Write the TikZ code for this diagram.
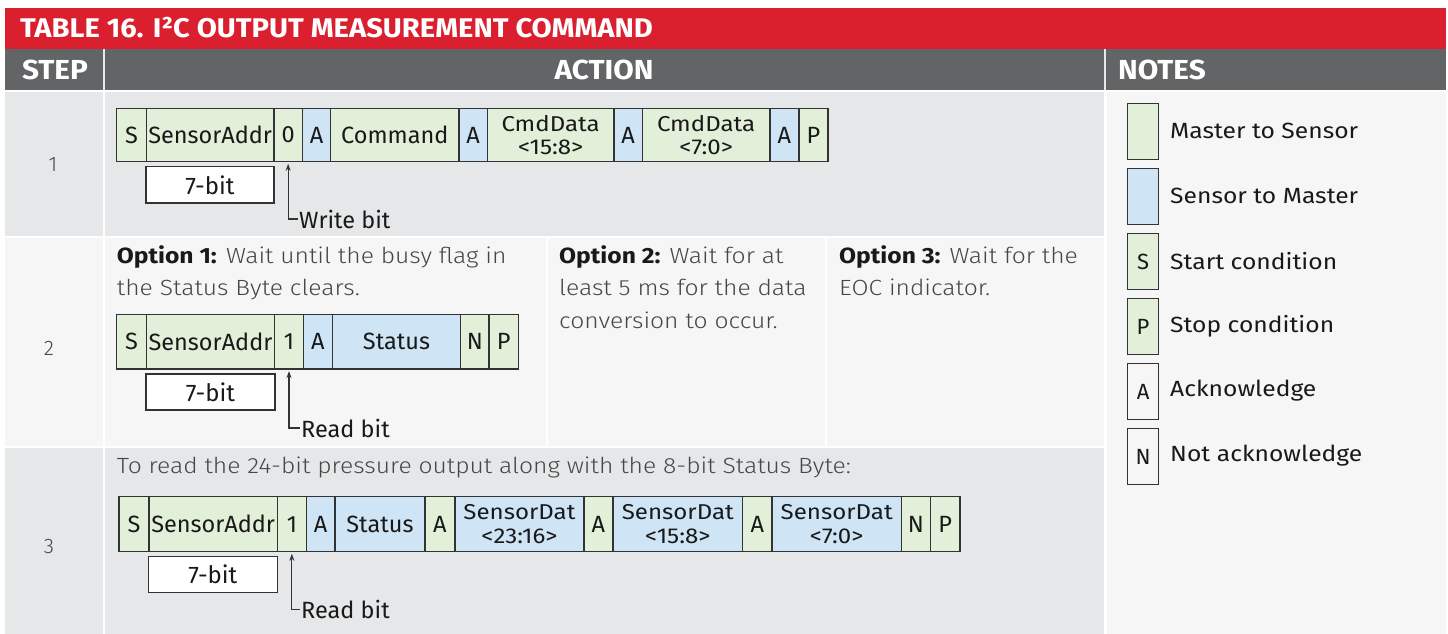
\documentclass[tikz,border=0pt]{standalone}
\usepackage{fontspec}
\setmainfont{Fira Sans}
\newfontfamily\lightf{Fira Sans Light}
\newfontfamily\regf{Fira Sans}
\newfontfamily\widef{Fira Sans}[FakeStretch=1.12]
\newfontfamily\widelight{Fira Sans Light}[FakeStretch=1.12]
\newfontfamily\condf{Fira Sans}[FakeStretch=1.08]
\usetikzlibrary{arrows.meta}
\definecolor{redc}{RGB}{218,31,46}
\definecolor{hdrc}{RGB}{99,100,102}
\definecolor{rowg}{RGB}{230,231,232}
\definecolor{rowl}{RGB}{246,246,246}
\definecolor{gfill}{RGB}{226,239,217}
\definecolor{bfill}{RGB}{207,229,245}
\definecolor{linec}{RGB}{51,51,51}
\definecolor{txtd}{RGB}{25,25,25}
\definecolor{txtg}{RGB}{70,70,70}
\newcommand\optb[1]{{\widef\bfseries\color{txtd}#1}}
\tikzset{
  cell/.style={draw=linec, line width=1.3pt, inner sep=0pt, anchor=north west, align=center, text=txtd,
    font=\regf\fontsize{23.5}{20}\selectfont},
  g/.style={cell, fill=gfill},
  b/.style={cell, fill=bfill},
  two/.style={font=\widef\fontsize{21.5}{23.5}\selectfont},
  gt/.style={g, two},
  bt/.style={b, two},
  bitbox/.style={draw=linec, line width=1.3pt, fill=white, inner sep=0pt, anchor=north west, text=txtd,
    font=\regf\fontsize{24}{24}\selectfont},
  arr/.style={draw=linec, line width=1.1pt, -{Stealth[length=7pt,width=5pt]}, shorten >=1.5pt},
  lbl/.style={anchor=base west, inner sep=1pt, text=txtd, font=\regf\fontsize{23.5}{23.5}\selectfont},
  desc/.style={anchor=north west, inner sep=0pt, align=left, text=txtg, font=\widelight\fontsize{22}{32.5}\selectfont},
  hdr/.style={text=white, font=\condf\bfseries\fontsize{27.5}{27.5}\selectfont},
  stepnum/.style={text=txtg, font=\lightf\fontsize{21}{21}\selectfont},
  legbox/.style={draw=linec, line width=1.2pt, inner sep=0pt, minimum width=31pt, minimum height=56pt, anchor=north west,
    text=txtd, font=\regf\fontsize{22}{22}\selectfont},
  legtxt/.style={anchor=west, inner sep=0pt, text=txtd, font=\widef\fontsize{22}{22}\selectfont},
}
\begin{document}
\begin{tikzpicture}[x=1pt,y=-1pt]
\useasboundingbox (0,0) rectangle (1448,634);
\fill[white] (0,0) rectangle (1448,634);
% title and header
\fill[redc] (5,8) rectangle (1446,49);
\fill[hdrc] (5,49) rectangle (1446,90);
\draw[white!85!hdrc, line width=1.2pt] (104,49) -- (104,90) (1105,49) -- (1105,90);
\node[hdr, anchor=base west, inner sep=0pt, font=\condf\bfseries\fontsize{27}{27}\selectfont] (title) at (20,37.5) {TABLE 16. I²C OUTPUT MEASUREMENT COMMAND};
\node[hdr, anchor=base] (hstep) at (55,79.5) {STEP};
\node[hdr, anchor=base] (haction) at (604,79.5) {ACTION};
\node[hdr, anchor=base west, inner sep=0pt] (hnotes) at (1118,79.5) {NOTES};
% row backgrounds
\fill[rowg] (5,92) rectangle (103,236);
\fill[rowg] (105,92) rectangle (1104,236);
\fill[rowl] (5,238) rectangle (103,446);
\fill[rowl] (105,238) rectangle (545.5,446);
\fill[rowl] (547.5,238) rectangle (825,446);
\fill[rowl] (827,238) rectangle (1104,446);
\fill[rowg] (5,448) rectangle (103,634);
\fill[rowg] (105,448) rectangle (1104,634);
\fill[rowl] (1106.5,92) rectangle (1446,634);
% step numbers
\node[stepnum] (s1) at (53,165) {1};
\node[stepnum] (s2) at (49,348) {2};
\node[stepnum] (s3) at (49,547) {3};
% row 1
\foreach \nm/\xa/\xb/\st/\tx in {
  r1a/116/145.7/g/S, r1b/145.7/273.3/g/SensorAddr, r1c/273.3/301.7/g/0, r1d/301.7/330/b/A,
  r1e/330/458.3/g/Command, r1f/458.3/486.7/b/A, r1g/486.7/613.3/gt/{CmdData\\<15:8>},
  r1h/613.3/641.7/b/A, r1i/641.7/769.3/gt/{CmdData\\<7:0>}, r1j/769.3/798.3/b/A, r1k/798.3/827.3/g/P}
  \node[\st, minimum width={(\xb-\xa)*1pt}, minimum height=53.3pt] (\nm) at (\xa,107.7) {\tx};
\node[bitbox, minimum width=128pt, minimum height=36.3pt] (b1) at (145.3,166) {7-bit};
\node[lbl] (w1) at (298,228) {Write bit};
\draw[arr] (w1.west) -| (r1c.south);
% row 2
\node[desc] (o1) at (116.7,245) {\optb{Option 1:} Wait until the busy flag in\\the Status Byte clears.};
\node[desc] (o2) at (559,245) {\optb{Option 2:} Wait for at\\least 5 ms for the data\\conversion to occur.};
\node[desc] (o3) at (839,245) {\optb{Option 3:} Wait for the\\EOC indicator.};
\foreach \nm/\xa/\xb/\st/\tx in {
  r2a/116/145.7/g/S, r2b/145.7/274/g/SensorAddr, r2c/274/302.7/g/1, r2d/302.7/331.7/b/A,
  r2e/331.7/460/b/Status, r2f/460/488.3/g/N, r2g/488.3/517.7/g/P}
  \node[\st, minimum width={(\xb-\xa)*1pt}, minimum height=54.3pt] (\nm) at (\xa,314) {\tx};
\node[bitbox, minimum width=129pt, minimum height=36pt] (b2) at (145.3,373.3) {7-bit};
\node[lbl] (w2) at (300,437) {Read bit};
\draw[arr] (w2.west) -| (r2c.south);
% row 3
\node[desc, anchor=base west] (t3) at (116.7,473.5) {To read the 24-bit pressure output along with the 8-bit Status Byte:};
\foreach \nm/\xa/\xb/\st/\tx in {
  r3a/118.3/148.3/g/S, r3b/148.3/276.7/g/SensorAddr, r3c/276.7/305.7/g/1, r3d/305.7/334.3/b/A,
  r3e/334.3/424.3/b/Status, r3f/424.3/454.3/g/A, r3g/454.3/583.3/bt/{SensorDat\\<23:16>},
  r3h/583.3/612.3/g/A, r3i/612.3/742/bt/{SensorDat\\<15:8>}, r3j/742/771.3/g/A,
  r3k/771.3/900.7/bt/{SensorDat\\<7:0>}, r3l/900.7/930/g/N, r3m/930/959.3/g/P}
  \node[\st, minimum width={(\xb-\xa)*1pt}, minimum height=55pt] (\nm) at (\xa,496) {\tx};
\node[bitbox, minimum width=129pt, minimum height=35.7pt] (b3) at (147.7,556) {7-bit};
\node[lbl] (w3) at (300,618.5) {Read bit};
\draw[arr] (w3.west) -| (r3c.south);
% legend
\node[legbox, fill=gfill] (L1) at (1127,103) {};
\node[legbox, fill=bfill] (L2) at (1127,168) {};
\node[legbox, fill=gfill] (L3) at (1127,233) {S};
\node[legbox, fill=gfill] (L4) at (1127,298) {P};
\node[legbox] (L5) at (1127,363) {A};
\node[legbox] (L6) at (1127,428) {N};
\node[legtxt] (T1) at (1170,131) {Master to Sensor};
\node[legtxt] (T2) at (1170,196) {Sensor to Master};
\node[legtxt] (T3) at (1170,261) {Start condition};
\node[legtxt] (T4) at (1170,326) {Stop condition};
\node[legtxt] (T5) at (1170,391) {Acknowledge};
\node[legtxt] (T6) at (1170,456) {Not acknowledge};
\end{tikzpicture}
\end{document}
